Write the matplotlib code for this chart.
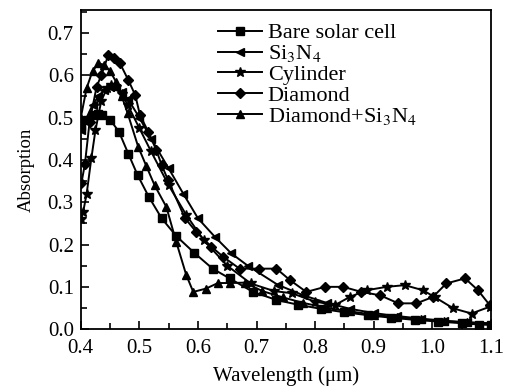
import matplotlib
matplotlib.use("Agg")
import matplotlib.pyplot as plt
from matplotlib.ticker import MultipleLocator, FormatStrFormatter

plt.rcParams["font.family"] = ["Liberation Serif", "DejaVu Serif"]
plt.rcParams["mathtext.fontset"] = "stix"

# wavelength (um) / absorption
bare_x = [0.40, 0.41, 0.42, 0.43, 0.437, 0.45, 0.465, 0.481, 0.497, 0.516, 0.538, 0.563,
          0.594, 0.625, 0.654, 0.694, 0.734, 0.77, 0.81, 0.85, 0.89, 0.93, 0.97, 1.01,
          1.05, 1.08, 1.10]
bare_y = [0.48, 0.495, 0.505, 0.508, 0.506, 0.495, 0.467, 0.415, 0.364, 0.313, 0.262, 0.22,
          0.18, 0.143, 0.12, 0.088, 0.069, 0.058, 0.048, 0.04, 0.033, 0.027, 0.022, 0.018,
          0.014, 0.011, 0.01]

si3n4_x = [0.40, 0.41, 0.42, 0.43, 0.44, 0.45, 0.46, 0.47, 0.48, 0.50, 0.52, 0.55,
           0.575, 0.60, 0.629, 0.657, 0.685, 0.736, 0.78, 0.82, 0.86, 0.90, 0.94, 0.98,
           1.02, 1.06, 1.10]
si3n4_y = [0.47, 0.50, 0.53, 0.55, 0.565, 0.572, 0.57, 0.56, 0.545, 0.50, 0.45, 0.38,
           0.32, 0.262, 0.218, 0.179, 0.15, 0.105, 0.08, 0.062, 0.048, 0.038, 0.031, 0.025,
           0.02, 0.016, 0.013]

cyl_x = [0.40, 0.404, 0.41, 0.418, 0.425, 0.435, 0.445, 0.452, 0.46, 0.47, 0.48, 0.50,
         0.52, 0.55, 0.58, 0.61, 0.65, 0.69, 0.73, 0.76, 0.80, 0.834, 0.859, 0.888,
         0.922, 0.953, 0.984, 1.004, 1.036, 1.067, 1.098]
cyl_y = [0.26, 0.277, 0.32, 0.404, 0.47, 0.54, 0.57, 0.577, 0.572, 0.555, 0.53, 0.475,
         0.42, 0.34, 0.27, 0.21, 0.15, 0.108, 0.09, 0.085, 0.065, 0.057, 0.076, 0.092,
         0.10, 0.104, 0.092, 0.076, 0.049, 0.037, 0.053]

dia_x = [0.401, 0.407, 0.415, 0.427, 0.435, 0.447, 0.457, 0.467, 0.481, 0.493, 0.501,
         0.515, 0.529, 0.538, 0.549, 0.578, 0.597, 0.623, 0.643, 0.671, 0.705, 0.734,
         0.757, 0.785, 0.817, 0.848, 0.879, 0.911, 0.942, 0.973, 1.001, 1.024, 1.056,
         1.078, 1.098]
dia_y = [0.345, 0.39, 0.49, 0.573, 0.60, 0.648, 0.642, 0.628, 0.589, 0.553, 0.506,
         0.467, 0.423, 0.388, 0.352, 0.262, 0.23, 0.195, 0.171, 0.143, 0.143, 0.143,
         0.116, 0.088, 0.10, 0.10, 0.088, 0.08, 0.061, 0.061, 0.076, 0.108, 0.12,
         0.092, 0.057]

dsi_x = [0.40, 0.41, 0.42, 0.43, 0.44, 0.45, 0.46, 0.47, 0.48, 0.498, 0.512, 0.526,
         0.546, 0.563, 0.58, 0.592, 0.614, 0.634, 0.654, 0.68, 0.71, 0.745, 0.78, 0.82,
         0.86, 0.90, 0.94, 0.98, 1.02, 1.06, 1.10]
dsi_y = [0.50, 0.57, 0.61, 0.628, 0.625, 0.61, 0.585, 0.55, 0.51, 0.431, 0.385, 0.34,
         0.289, 0.206, 0.128, 0.088, 0.096, 0.109, 0.109, 0.11, 0.09, 0.075, 0.062, 0.05,
         0.042, 0.034, 0.028, 0.023, 0.019, 0.016, 0.014]

series = [
    (bare_x, bare_y, "s", "Bare solar cell"),
    (si3n4_x, si3n4_y, "<", "Si$_3$N$_4$"),
    (cyl_x, cyl_y, "*", "Cylinder"),
    (dia_x, dia_y, "D", "Diamond"),
    (dsi_x, dsi_y, "^", "Diamond+Si$_3$N$_4$"),
]

fig = plt.figure(figsize=(5.05, 3.9), dpi=100)
fig.subplots_adjust(left=0.160, right=0.972, top=0.974, bottom=0.156)
ax = fig.add_subplot(1, 1, 1)

for x, y, m, lab in series:
    ms = 5.5
    if m == "*":
        ms = 7.5
    if m == "D":
        ms = 5
    ax.plot(x, y, color="black", linewidth=1.4, marker=m, markersize=ms, label=lab)

ax.set_xlim(0.4, 1.1)
ax.set_ylim(0.0, 0.754)
ax.xaxis.set_major_locator(MultipleLocator(0.1))
ax.xaxis.set_minor_locator(MultipleLocator(0.05))
ax.yaxis.set_minor_locator(MultipleLocator(0.05))
ax.set_yticks([0.0, 0.1, 0.2, 0.3, 0.4, 0.5, 0.6, 0.7])
ax.xaxis.set_major_formatter(FormatStrFormatter("%.1f"))
ax.yaxis.set_major_formatter(FormatStrFormatter("%.1f"))
ax.tick_params(which="both", direction="in", labelsize=15, width=1.2)
ax.tick_params(which="major", length=6)
ax.tick_params(which="minor", length=4)
ax.tick_params(axis="x", pad=7)
ax.tick_params(axis="y", pad=5)
for s in ax.spines.values():
    s.set_linewidth(1.3)

ax.set_xlabel("Wavelength (μm)", fontsize=15, labelpad=6)
ax.set_ylabel("Absorption", fontsize=13.5, labelpad=9)

ax.legend(loc="upper left", bbox_to_anchor=(0.334, 0.96), frameon=False, fontsize=16,
          handlelength=2.0, labelspacing=0.0, handletextpad=0.25, borderpad=0,
          borderaxespad=0)

fig.savefig("out.png")
